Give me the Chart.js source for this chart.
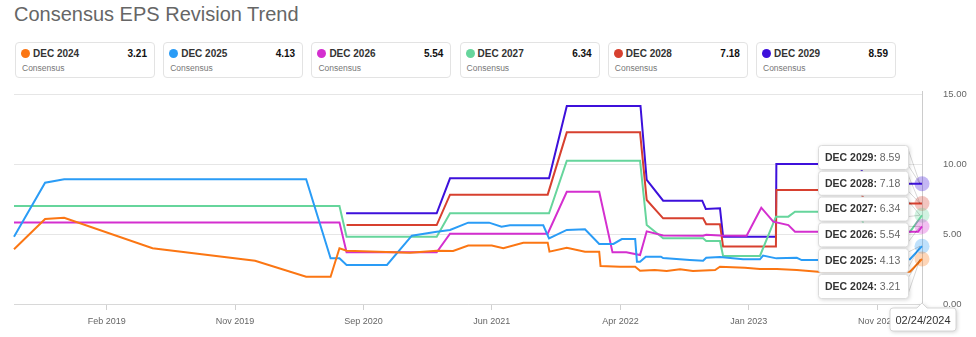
<!DOCTYPE html>
<html>
<head>
<meta charset="utf-8">
<script src="https://cdn.jsdelivr.net/npm/chart.js@4.4.1/dist/chart.umd.min.js"></script>
<style>
    body { margin: 0; width: 976px; height: 337px; background: #fff; position: relative; overflow: hidden;
           font-family: Arial, "Liberation Sans", sans-serif; }
    #title { position: absolute; left: 14px; top: 3px; font-size: 20px; line-height: 23px; color: #666; }
    .card { position: absolute; top: 42px; width: 140px; height: 36px; box-sizing: border-box;
            border: 1px solid #e3e3e3; border-radius: 4px; background: #fff; }
    .card .dot { position: absolute; left: 5px; top: 6px; width: 9px; height: 9px; border-radius: 50%; }
    .card .name { position: absolute; left: 17px; top: 5px; font-size: 10px; line-height: 12px; font-weight: bold; color: #333; }
    .card .val { position: absolute; right: 7px; top: 5px; font-size: 10px; line-height: 12px; font-weight: bold; color: #111; }
    .card .sub { position: absolute; left: 6px; top: 20px; font-size: 8.5px; line-height: 10px; color: #777; }
    #chart { position: absolute; left: 0; top: 85px; }
</style>
</head>
<body>
<div id="title">Consensus EPS Revision Trend</div>
<div id="cards"></div>
<canvas id="chart" width="976" height="252"></canvas>
<script>
const seriesNames = ['DEC 2024', 'DEC 2025', 'DEC 2026', 'DEC 2027', 'DEC 2028', 'DEC 2029'];
const seriesColors = ['#fb7613', '#2a9cf6', '#d42fcf', '#66d59c', '#d7402f', '#3d10db'];

const dec2024Dates = ['2018-07-20', '2018-09-28', '2018-11-10', '2019-05-28', '2020-01-14', '2020-05-08', '2020-07-02',
    '2020-07-22', '2020-08-07', '2020-12-28', '2021-02-26', '2021-04-04', '2021-05-08', '2021-06-30', '2021-07-26',
    '2021-09-09', '2021-11-03', '2021-11-07', '2021-12-16', '2022-01-26', '2022-02-27', '2022-03-02', '2022-04-15',
    '2022-05-19', '2022-05-30', '2022-07-02', '2022-07-29', '2022-08-28', '2022-09-26', '2022-11-15', '2022-11-26',
    '2023-01-21', '2023-02-24', '2023-04-03', '2023-05-18', '2023-07-05', '2024-01-28', '2024-02-24'];
const dec2024Values = [3.91, 6.07, 6.16, 3.98, 3.09, 1.95, 1.95,
    3.98, 3.81, 3.66, 3.81, 3.79, 4.17, 4.17, 3.98,
    4.38, 4.38, 3.74, 4.02, 3.74, 3.74, 2.71, 2.66,
    2.66, 2.38, 2.43, 2.36, 2.48, 2.36, 2.43, 2.66,
    2.59, 2.50, 2.50, 2.43, 2.31, 2.31, 3.21];

const dec2025Dates = ['2018-07-20', '2018-09-28', '2018-11-10', '2020-05-08', '2020-07-02', '2020-07-22', '2020-08-07',
    '2020-11-06', '2021-01-01', '2021-02-26', '2021-03-28', '2021-05-08', '2021-06-24', '2021-07-22', '2021-08-10',
    '2021-10-24', '2021-11-06', '2021-12-16', '2022-01-26', '2022-02-27', '2022-03-31', '2022-04-19', '2022-05-19',
    '2022-05-23', '2022-05-30', '2022-06-12', '2022-07-16', '2022-07-21', '2022-09-19', '2022-10-19', '2022-10-26',
    '2022-11-26', '2023-01-17', '2023-02-24', '2023-03-03', '2023-04-02', '2023-05-18', '2023-05-29', '2023-07-09',
    '2024-01-28', '2024-02-24'];
const dec2025Values = [4.81, 8.66, 8.91, 8.91, 3.26, 3.26, 2.79,
    2.79, 4.88, 5.16, 5.29, 5.81, 5.81, 5.52, 5.62,
    5.62, 4.69, 5.29, 5.34, 4.29, 4.29, 4.64, 4.64,
    3.02, 3.02, 3.38, 3.38, 3.28, 3.14, 3.09, 3.30,
    3.35, 3.19, 3.19, 3.46, 3.26, 3.30, 3.14, 3.14,
    3.20, 4.13];

const dec2026Dates = ['2018-07-20', '2020-07-22', '2020-08-07', '2021-02-26', '2021-03-28', '2021-11-03', '2021-12-16',
    '2022-02-27', '2022-03-29', '2022-04-29', '2022-05-30', '2022-06-14', '2022-07-21', '2022-10-19', '2022-10-26',
    '2022-11-26', '2023-01-25', '2023-02-27', '2023-03-26', '2023-04-29', '2023-05-14', '2024-02-15', '2024-02-24'];
const dec2026Values = [5.83, 5.83, 3.69, 3.69, 5.02, 5.02, 8.02,
    8.02, 3.69, 3.69, 3.50, 5.19, 4.90, 4.88, 4.95,
    4.90, 4.88, 6.88, 5.88, 5.64, 5.16, 5.16, 5.54];

const dec2027Dates = ['2018-07-20', '2020-07-22', '2020-08-07', '2021-02-26', '2021-03-28', '2021-11-06', '2021-12-16',
    '2022-05-30', '2022-06-14', '2022-07-21', '2022-10-19', '2022-10-26', '2022-11-26', '2022-12-03', '2023-02-24',
    '2023-04-01', '2023-04-29', '2023-05-14', '2023-10-07', '2023-10-20', '2024-01-28', '2024-02-24'];
const dec2027Values = [7.00, 7.00, 4.81, 4.81, 6.48, 6.48, 10.24,
    10.24, 5.64, 4.69, 4.69, 4.50, 4.50, 3.43, 3.43,
    6.24, 6.24, 6.59, 6.59, 5.16, 5.16, 6.34];

const dec2028Dates = ['2020-08-07', '2021-02-26', '2021-03-28', '2021-11-03', '2021-12-16', '2022-05-30', '2022-06-14',
    '2022-07-21', '2022-10-19', '2022-10-26', '2022-11-26', '2022-12-03', '2023-04-01', '2023-04-02', '2023-10-07',
    '2023-10-20', '2024-02-24'];
const dec2028Values = [5.64, 5.64, 7.81, 7.81, 12.26, 12.26, 7.43,
    6.12, 6.12, 5.70, 5.70, 4.10, 4.10, 8.14, 8.14,
    7.18, 7.18];

const dec2029Dates = ['2020-08-06', '2021-02-26', '2021-03-28', '2021-11-06', '2021-12-16', '2022-05-31', '2022-06-14',
    '2022-07-21', '2022-10-17', '2022-10-25', '2022-11-26', '2022-12-03', '2023-04-01', '2023-04-02', '2023-10-07',
    '2023-10-20', '2024-02-24'];
const dec2029Values = [6.48, 6.48, 8.98, 8.98, 14.14, 14.14, 8.86,
    7.38, 7.38, 6.79, 6.84, 4.81, 4.81, 10.00, 10.00,
    8.59, 8.59];

const tickDates = ['2019-02-14', '2019-11-30', '2020-09-14', '2021-06-30', '2022-04-16', '2023-01-30', '2023-11-15'];
const tickLabels = ['Feb 2019', 'Nov 2019', 'Sep 2020', 'Jun 2021', 'Apr 2022', 'Jan 2023', 'Nov 2023'];
const startDate = '2018-07-20';
const hoverDate = '2024-02-24';

const seriesDates = [dec2024Dates, dec2025Dates, dec2026Dates, dec2027Dates, dec2028Dates, dec2029Dates];
const seriesValues = [dec2024Values, dec2025Values, dec2026Values, dec2027Values, dec2028Values, dec2029Values];

// даты -> дни с 1970 года, чтобы обойтись без адаптера дат
function toDay(s) {
    const [y, m, d] = s.split('-').map(Number);
    return Date.UTC(y, m - 1, d) / 864e5;
}

function lastValue(i) {
    const v = seriesValues[i];
    return v[v.length - 1];
}

// карточки над графиком
const cards = document.getElementById('cards');
seriesNames.forEach((name, i) => {
    const card = document.createElement('div');
    card.className = 'card';
    card.style.left = (15 + i * 148.2) + 'px';
    card.innerHTML = `<span class="dot" style="background:${seriesColors[i]}"></span>` +
        `<span class="name">${name}</span><span class="val">${lastValue(i).toFixed(2)}</span>` +
        `<span class="sub">Consensus</span>`;
    cards.appendChild(card);
});

function boxPath(ctx, x, y, w, h, r) {
    ctx.beginPath();
    ctx.moveTo(x + r, y);
    ctx.lineTo(x + w - r, y);
    ctx.arcTo(x + w, y, x + w, y + r, r);
    ctx.lineTo(x + w, y + h - r);
    ctx.arcTo(x + w, y + h, x + w - r, y + h, r);
    ctx.lineTo(x + r, y + h);
    ctx.arcTo(x, y + h, x, y + h - r, r);
    ctx.lineTo(x, y + r);
    ctx.arcTo(x, y, x + r, y, r);
    ctx.closePath();
}

// вертикальная линия и подсказки для выбранной даты
const hoverPlugin = {
    id: 'hoverBoxes',
    beforeDatasetsDraw(chart) {
        const { ctx, chartArea, scales } = chart;
        const x = Math.round(scales.x.getPixelForValue(toDay(hoverDate))) + 0.5;
        ctx.save();
        ctx.strokeStyle = '#cccccc';
        ctx.lineWidth = 1;
        ctx.beginPath();
        ctx.moveTo(x, chartArea.top - 3);
        ctx.lineTo(x, chartArea.bottom + 4);
        ctx.stroke();
        ctx.restore();
    },
    afterDraw(chart) {
        const { ctx, scales } = chart;
        const px = scales.x.getPixelForValue(toDay(hoverDate));
        const boxLeft = px - 104, boxW = 90, boxH = 24, top0 = 60, step = 25.8;
        const n = seriesNames.length;
        ctx.save();
        ctx.textBaseline = 'middle';
        for (let k = 0; k < n; k++) {
            const i = n - 1 - k;
            const v = lastValue(i);
            const py = scales.y.getPixelForValue(v);
            const y = top0 + k * step;
            ctx.strokeStyle = 'rgba(0,0,0,0.16)';
            ctx.lineWidth = 1;
            ctx.beginPath();
            ctx.moveTo(boxLeft + boxW, y + 4);
            ctx.lineTo(px - 2, py);
            ctx.lineTo(boxLeft + boxW, y + boxH - 4);
            ctx.stroke();

            ctx.shadowColor = 'rgba(0,0,0,0.2)';
            ctx.shadowBlur = 4;
            ctx.shadowOffsetX = 1;
            ctx.shadowOffsetY = 1;
            ctx.fillStyle = '#ffffff';
            boxPath(ctx, boxLeft + 0.5, y + 0.5, boxW, boxH, 3);
            ctx.fill();
            ctx.shadowColor = 'transparent';
            ctx.strokeStyle = '#dcdcdc';
            ctx.stroke();

            const label = seriesNames[i] + ':';
            ctx.font = 'bold 10.5px Arial, "Liberation Sans", sans-serif';
            ctx.fillStyle = '#333';
            ctx.fillText(label, boxLeft + 7, y + boxH / 2 + 1);
            const w = ctx.measureText(label).width;
            ctx.font = '10.5px Arial, "Liberation Sans", sans-serif';
            ctx.fillStyle = '#666';
            ctx.fillText(' ' + v.toFixed(2), boxLeft + 7 + w, y + boxH / 2 + 1);
        }

        // подпись даты под осью
        const [yy, mm, dd] = hoverDate.split('-');
        const text = `${mm}/${dd}/${yy}`;
        const dx = px - 32, dy = 223, dw = 66, dh = 23;
        ctx.shadowColor = 'rgba(0,0,0,0.2)';
        ctx.shadowBlur = 4;
        ctx.shadowOffsetX = 1;
        ctx.shadowOffsetY = 1;
        ctx.fillStyle = '#ffffff';
        ctx.beginPath();
        ctx.moveTo(dx + 3, dy);
        ctx.lineTo(px - 5, dy);
        ctx.lineTo(px, dy - 5);
        ctx.lineTo(px + 5, dy);
        ctx.lineTo(dx + dw - 3, dy);
        ctx.arcTo(dx + dw, dy, dx + dw, dy + 3, 3);
        ctx.lineTo(dx + dw, dy + dh - 3);
        ctx.arcTo(dx + dw, dy + dh, dx + dw - 3, dy + dh, 3);
        ctx.lineTo(dx + 3, dy + dh);
        ctx.arcTo(dx, dy + dh, dx, dy + dh - 3, 3);
        ctx.lineTo(dx, dy + 3);
        ctx.arcTo(dx, dy, dx + 3, dy, 3);
        ctx.closePath();
        ctx.fill();
        ctx.shadowColor = 'transparent';
        ctx.strokeStyle = '#d6d6d6';
        ctx.stroke();
        ctx.font = '11px Arial, "Liberation Sans", sans-serif';
        ctx.fillStyle = '#333';
        ctx.textAlign = 'center';
        ctx.fillText(text, dx + dw / 2, dy + dh / 2 + 1);
        ctx.restore();
    }
};

Chart.defaults.font.family = 'Arial, "Liberation Sans", sans-serif';

new Chart(document.getElementById('chart'), {
    type: 'line',
    data: {
        datasets: seriesNames.map((name, i) => ({
            label: name,
            data: seriesDates[i].map((d, j) => ({ x: toDay(d), y: seriesValues[i][j] })),
            borderColor: seriesColors[i],
            borderWidth: 2,
            tension: 0,
            clip: false,
            pointRadius: c => (c.dataIndex === seriesDates[i].length - 1 ? 7.5 : 0),
            pointHoverRadius: 0,
            pointBorderWidth: 0,
            pointBackgroundColor: seriesColors[i] + '4d'
        }))
    },
    options: {
        responsive: false,
        animation: false,
        events: [],
        layout: { padding: { left: 14, top: 9, right: 0, bottom: 0 } },
        plugins: {
            legend: { display: false },
            tooltip: { enabled: false }
        },
        scales: {
            x: {
                type: 'linear',
                min: toDay(startDate),
                max: toDay(hoverDate),
                afterFit: s => { s.height = 33; },
                afterBuildTicks: s => { s.ticks = tickDates.map(d => ({ value: toDay(d) })); },
                grid: { drawOnChartArea: false, drawTicks: true, tickLength: 6, color: '#d0d0d0' },
                border: { display: true, color: '#d8d8d8' },
                ticks: {
                    autoSkip: false,
                    maxRotation: 0,
                    padding: 6,
                    color: '#666',
                    font: { size: 9 },
                    callback: (v, idx) => tickLabels[idx]
                }
            },
            y: {
                position: 'right',
                min: 0,
                max: 15,
                // отступ подписей не должен сжимать область графика
                afterFit: s => { s.width = 54; s.paddingTop = 0; s.paddingBottom = 0; },
                grid: { color: '#e6e6e6', drawTicks: false },
                border: { display: false },
                ticks: {
                    stepSize: 5,
                    padding: 21,
                    color: '#666',
                    font: { size: 9.5 },
                    callback: v => v.toFixed(2)
                }
            }
        }
    },
    plugins: [hoverPlugin]
});
</script>
</body>
</html>
